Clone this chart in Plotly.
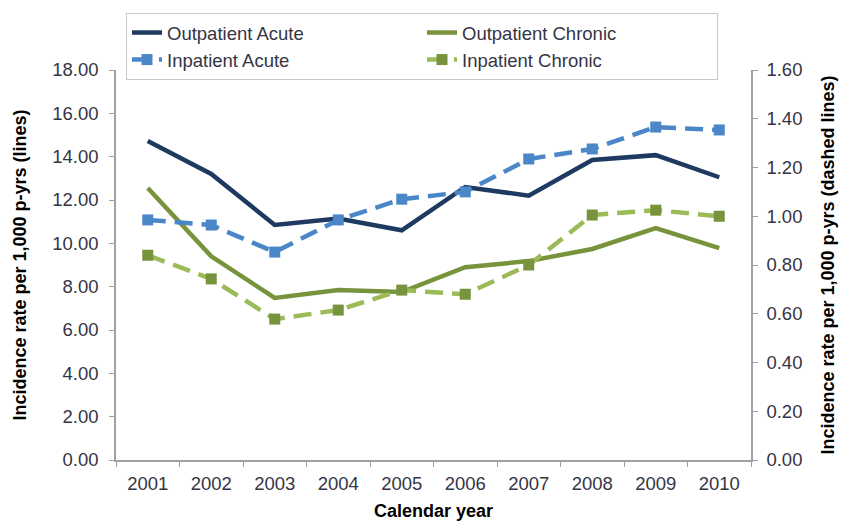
import plotly.graph_objects as go

# Data
years = ['2001', '2002', '2003', '2004', '2005', '2006', '2007', '2008', '2009', '2010']

# left axis (solid lines)
outpatient_acute = [14.72, 13.2, 10.85, 11.15, 10.6, 12.6, 12.2, 13.85, 14.07, 13.05]
outpatient_chronic = [12.55, 9.4, 7.48, 7.85, 7.75, 8.9, 9.18, 9.74, 10.7, 9.78]

# right axis (dashed lines)
inpatient_acute = [0.985, 0.964, 0.853, 0.985, 1.07, 1.10, 1.235, 1.276, 1.366, 1.354]
inpatient_chronic = [0.84, 0.743, 0.578, 0.615, 0.697, 0.68, 0.80, 1.005, 1.025, 1.0]

fig = go.Figure()

fig.add_trace(go.Scatter(
    x=years, y=outpatient_acute, name='Outpatient Acute',
    mode='lines', line=dict(color='#1F3A60', width=4.5),
    yaxis='y'
))
fig.add_trace(go.Scatter(
    x=years, y=outpatient_chronic, name='Outpatient Chronic',
    mode='lines', line=dict(color='#77933C', width=4.5),
    yaxis='y'
))
fig.add_trace(go.Scatter(
    x=years, y=inpatient_acute, name='Inpatient Acute',
    mode='lines+markers', line=dict(color='#4A86C8', width=4.5, dash='18px,9px'),
    marker=dict(symbol='square', size=11, color='#4A86C8'),
    yaxis='y2'
))
fig.add_trace(go.Scatter(
    x=years, y=inpatient_chronic, name='Inpatient Chronic',
    mode='lines+markers', line=dict(color='#9BBB59', width=4.5, dash='18px,9px'),
    marker=dict(symbol='square', size=11, color='#77933C'),
    yaxis='y2'
))

FONT = 'Liberation Sans, Arial, sans-serif'
axis_font = dict(family=FONT, size=18.5, color='#353545')
title_font = dict(family=FONT, size=18, color='black')

# page body adds ~8px offset, so the figure is a bit smaller than the window
fig.update_layout(
    width=839, height=513,
    margin=dict(l=108, r=96, t=62, b=61, autoexpand=False),
    plot_bgcolor='white',
    paper_bgcolor='white',
    font=axis_font,
    legend=dict(
        orientation='h',
        x=10 / 635, y=1.0 + 57 / 390, xanchor='left', yanchor='top',
        entrywidth=250,
        bgcolor='white',
        bordercolor='#C8C8C8', borderwidth=1,
        font=dict(family=FONT, size=18.5, color='#353545'),
        traceorder='normal',
    ),
    xaxis=dict(
        type='category',
        range=[-0.5, 9.5],
        showline=True, linecolor='#A0A0A0', linewidth=1.5,
        ticks='outside', tickson='boundaries', ticklen=5, tickcolor='#A0A0A0',
        ticklabelstandoff=6,
        showgrid=False,
        title=dict(text='<b>Calendar year</b>', font=title_font, standoff=12),
    ),
    yaxis=dict(
        range=[0, 18], dtick=2, tickformat='.2f',
        showline=True, linecolor='#A0A0A0', linewidth=1.5,
        ticks='outside', ticklen=5, tickcolor='#A0A0A0',
        ticklabelstandoff=7,
        showgrid=False, zeroline=False,
        title=dict(text='<b>Incidence rate per 1,000 p-yrs (lines)</b>', font=title_font, standoff=21),
    ),
    yaxis2=dict(
        range=[0, 1.6], dtick=0.2, tickformat='.2f',
        overlaying='y', side='right',
        showline=True, linecolor='#A0A0A0', linewidth=1.5,
        ticks='outside', ticklen=5, tickcolor='#A0A0A0',
        ticklabelstandoff=5,
        showgrid=False, zeroline=False,
        title=dict(text='<b>Incidence rate per 1,000 p-yrs (dashed lines)</b>', font=title_font, standoff=20),
    ),
)

fig.write_html('out.html')
